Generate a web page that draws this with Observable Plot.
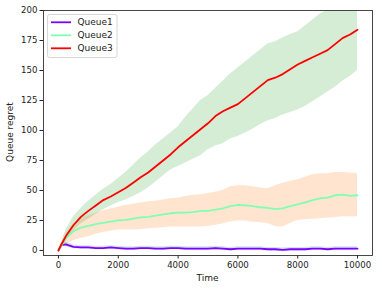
<!DOCTYPE html>
<html>
<head>
<meta charset="utf-8">
<script src="https://cdn.jsdelivr.net/npm/d3@7"></script>
<script src="https://cdn.jsdelivr.net/npm/@observablehq/plot@0.6"></script>
<style>
  html, body { margin: 0; padding: 0; background: #fff; }
  #chart { width: 382px; height: 290px; }
</style>
</head>
<body>
<div id="chart"></div>
<script>
const time = [0,100,250,500,750,1000,1250,1500,1750,2000,2250,2500,2750,3000,3250,3500,3750,4000,4250,4500,4750,5000,5250,5500,5750,6000,6250,6500,6750,7000,7250,7500,7750,8000,8250,8500,8750,9000,9250,9500,9750,10000];

const queue1   = [0,4.5,5,3,2.5,2.5,2,2,2.5,2,1.5,1.5,2,2,1.5,1.5,2,2,1.5,1.5,1.5,1.5,2,1.5,1,1.5,1.5,1.5,1.5,1,1,0.5,1,1,1,1.5,1.5,1,1.5,1.5,1.5,1.5];
const queue1Lo = [0,3,3,1.5,1,1,0.5,0.5,1,0.5,0,0,0.5,0.5,0,0,0.5,0.5,0,0,0,0,0.5,0,-0.5,0,0,0,0,-0.5,-0.5,-1,-0.5,-0.5,-0.5,0,0,-0.5,0,0,0,0];
const queue1Hi = [0,6,7,4.5,4,4,3.5,3.5,4,3.5,3,3,3.5,3.5,3,3,3.5,3.5,3,3,3,3,3.5,3,2.5,3,3,3,3,2.5,2.5,2,2.5,2.5,2.5,3,3,2.5,3,3,3,3];

const queue2   = [0,4,10,16,19,20.5,22,23,24,25,25.5,26.5,27.5,28,29,30,31,31.5,31.5,32,33,33,34,35,37,38,37.5,37,36,35.5,34.5,35,37,38.5,40,42,43.5,44,46,46.5,45.5,46];
const queue2Lo = [0,2,5,8,10,11.5,13.5,15,16,17,17,17,17.5,18,18.5,19,19.5,19.5,19.5,19.5,19.5,20,21,22,24,24.5,24.5,23.5,23,22.5,20,19.5,22.5,25,25.5,26,26.5,27,27.5,28,28,28];
const queue2Hi = [0,6,14,22,27,29,31,33,34.5,36,37.5,38.5,39.5,40.5,41,42,43,43.5,45,46,46.5,47.5,48.5,50,53,54,54,53,52,51.5,54,56,57.5,59,61,63,64,64,65,65,64.5,64];

const queue3   = [0,5,12,21,28,33,37.5,42,45,48.5,52,56.5,61,65,70,75,80,86,91,96,101,106,112,116,119,122,127,132,137,142,144,147,151,155,158,161,164,167,172,177,180,184];
const queue3Lo = [0,3,8,16,22,26,30,34,37,40,42,45,48,52,57,62,67,70,73,76,79,84,87,89,93,95,98,101,105,108,110,113,115,117,120,124,128,132,136,141,145,150];
const queue3Hi = [0,7,17,28,35,41,46,51,55,60,65,71,77,82,88,93,98,103,111,118,125,129,135,141,147,152,157,162,167,172,174,177,180,182,187,192,197,200,204,207,211,214];

const seriesNames = ["Queue1","Queue2","Queue3"];
const lineColors = ["#8000ff","#80ffb4","#ff0000"];
const bandColors = ["#1f77b4","#ff7f0e","#2ca02c"];
const xTicks = [0,2000,4000,6000,8000,10000];
const yTicks = [0,25,50,75,100,125,150,175,200];

const vals = [queue1, queue2, queue3];
const los = [queue1Lo, queue2Lo, queue3Lo];
const his = [queue1Hi, queue2Hi, queue3Hi];

const rows = [];
seriesNames.forEach((name, s) => {
  time.forEach((tt, i) => rows.push({series: name, t: tt, v: vals[s][i], lo: los[s][i], hi: his[s][i]}));
});

const font = "DejaVu Sans, sans-serif";
const marks = [];
seriesNames.forEach((name, s) => {
  marks.push(Plot.areaY(rows.filter(d => d.series === name), {x: "t", y1: "lo", y2: "hi", fill: bandColors[s], fillOpacity: 0.2, clip: true}));
});
seriesNames.forEach((name, s) => {
  marks.push(Plot.lineY(rows.filter(d => d.series === name), {x: "t", y: "v", stroke: lineColors[s], strokeWidth: 1.8, clip: true}));
});

const chart = Plot.plot({
  width: 382,
  height: 290,
  marginLeft: 43,
  marginRight: 10,
  marginTop: 10,
  marginBottom: 35,
  style: {fontFamily: font, fontSize: "8.6px", color: "#222", background: "#fff"},
  x: {domain: [-500, 10500], ticks: xTicks, tickSize: 3.5, tickPadding: 2.5, label: null, tickFormat: d => String(d)},
  y: {domain: [-4.2, 200], ticks: yTicks, tickSize: 3.5, tickPadding: 2.5, label: null, tickFormat: d => String(d)},
  marks: [
    ...marks,
    Plot.frame({stroke: "#333", strokeWidth: 0.9})
  ]
});

document.getElementById("chart").appendChild(chart);

const svg = d3.select(chart);
svg.append("text").attr("x", 207.5).attr("y", 281).attr("text-anchor", "middle")
  .attr("font-family", font).attr("font-size", "9px").attr("fill", "#222").text("Time");
svg.append("text").attr("transform", "translate(13,132) rotate(-90)").attr("text-anchor", "middle")
  .attr("font-family", font).attr("font-size", "9px").attr("fill", "#222").text("Queue regret");

const lg = svg.append("g");
lg.append("rect").attr("x", 47.5).attr("y", 14.5).attr("width", 69.5).attr("height", 43).attr("rx", 2)
  .attr("fill", "#fff").attr("fill-opacity", 0.8).attr("stroke", "#ccc").attr("stroke-width", 0.8);
seriesNames.forEach((name, i) => {
  const y = 22.3 + i * 13;
  lg.append("line").attr("x1", 51).attr("x2", 71).attr("y1", y).attr("y2", y)
    .attr("stroke", lineColors[i]).attr("stroke-width", 1.8);
  lg.append("text").attr("x", 77.5).attr("y", y).attr("dy", "0.35em").attr("text-anchor", "start")
    .attr("font-family", font).attr("font-size", "9px").attr("fill", "#222").text(name);
});
</script>
</body>
</html>
